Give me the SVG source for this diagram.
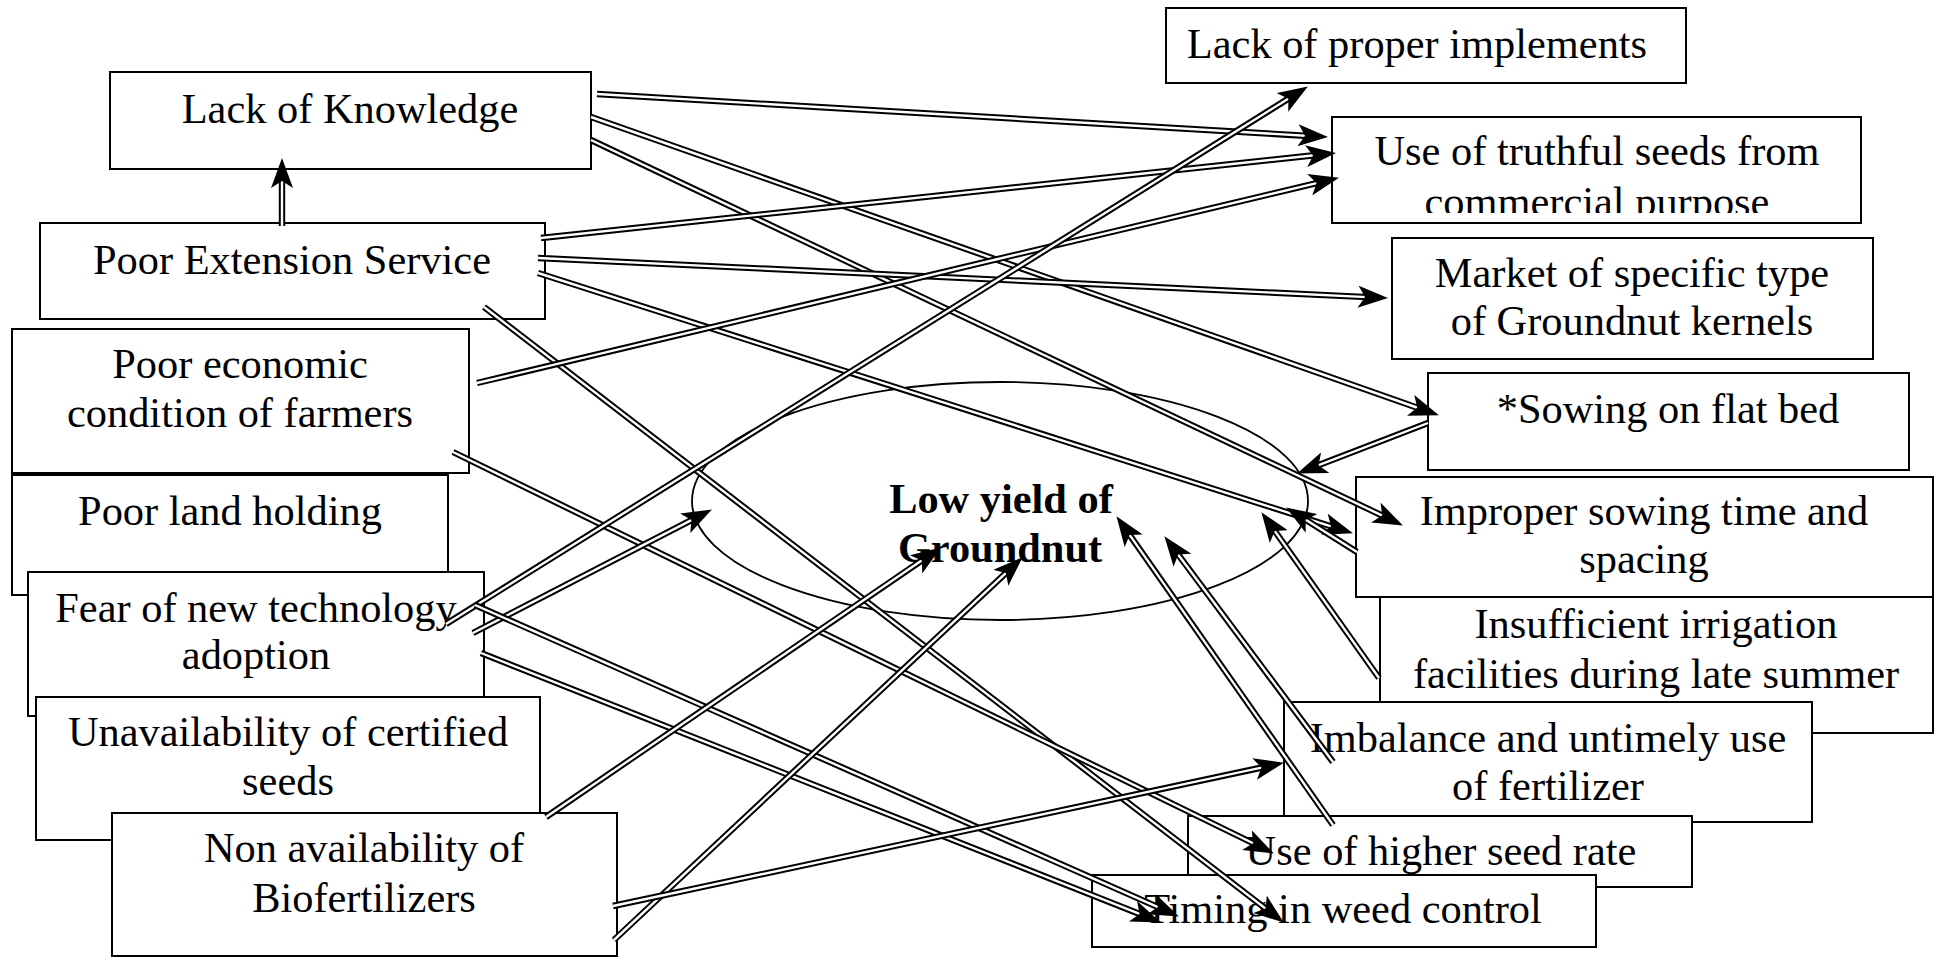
<svg xmlns="http://www.w3.org/2000/svg" width="1938" height="957" viewBox="0 0 1938 957" font-family="'Liberation Serif', 'Times New Roman', serif">
<style>
.box{fill:#fff;stroke:#000;stroke-width:2}
.t{font-size:42.4px;fill:#000;text-anchor:middle}
.tb{font-size:42.4px;font-weight:bold;fill:#000;text-anchor:middle}
.o{fill:none;stroke:#000;stroke-width:6.4}
.i{fill:none;stroke:#fff;stroke-width:2.4;marker-end:url(#ah)}
.ell{fill:#fff;stroke:#000;stroke-width:1.8}
</style>
<defs>
<marker id="ah" markerUnits="userSpaceOnUse" markerWidth="30" markerHeight="22" viewBox="0 0 30 22" refX="20" refY="11" orient="auto">
<path d="M0,0 L30,11 L0,22 L7,11 Z" fill="#000"/>
</marker>
<clipPath id="clipTruth"><rect x="1333" y="118" width="527" height="95"/></clipPath>
</defs>
<rect width="1938" height="957" fill="#fff"/>

<g id="node-lack-knowledge"><rect class="box" x="110" y="72" width="481" height="97"/><text class="t" x="350" y="123">Lack of Knowledge</text></g>
<g id="node-poor-extension"><rect class="box" x="40" y="223" width="505" height="96"/><text class="t" x="292" y="274">Poor Extension Service</text></g>
<g id="node-poor-economic"><rect class="box" x="12" y="329" width="457" height="144"/><text class="t" x="240" y="378">Poor economic</text><text class="t" x="240" y="427">condition of farmers</text></g>
<g id="node-poor-land"><rect class="box" x="12" y="475" width="436" height="120"/><text class="t" x="230" y="525">Poor land holding</text></g>
<g id="node-fear"><rect class="box" x="28" y="572" width="456" height="144"/><text class="t" x="256" y="622">Fear of new technology</text><text class="t" x="256" y="669">adoption</text></g>
<g id="node-unavailability"><rect class="box" x="36" y="697" width="504" height="143"/><text class="t" x="288" y="746">Unavailability of certified</text><text class="t" x="288" y="795">seeds</text></g>
<g id="node-biofertilizers"><rect class="box" x="112" y="813" width="505" height="143"/><text class="t" x="364" y="862">Non availability of</text><text class="t" x="364" y="912">Biofertilizers</text></g>

<g id="node-implements"><rect class="box" x="1166" y="8" width="520" height="75"/><text class="t" x="1417" y="58">Lack of proper implements</text></g>
<g id="node-truthful"><rect class="box" x="1332" y="117" width="529" height="106"/><g clip-path="url(#clipTruth)"><text class="t" x="1597" y="165">Use of truthful seeds from</text><text class="t" x="1597" y="216">commercial purpose</text></g></g>
<g id="node-market"><rect class="box" x="1392" y="238" width="481" height="121"/><text class="t" x="1632" y="287">Market of specific type</text><text class="t" x="1632" y="335">of Groundnut kernels</text></g>
<g id="node-flatbed"><rect class="box" x="1428" y="373" width="481" height="97"/><text class="t" x="1668" y="423">*Sowing on flat bed</text></g>
<g id="node-irrigation"><rect class="box" x="1380" y="597" width="553" height="136"/><text class="t" x="1656" y="638">Insufficient irrigation</text><text class="t" x="1656" y="688">facilities during late summer</text></g>
<g id="node-improper"><rect class="box" x="1356" y="477" width="577" height="120"/><text class="t" x="1644" y="525">Improper sowing time and</text><text class="t" x="1644" y="573">spacing</text></g>
<g id="node-imbalance"><rect class="box" x="1284" y="702" width="528" height="120"/><text class="t" x="1548" y="752">Imbalance and untimely use</text><text class="t" x="1548" y="800">of fertilizer</text></g>
<g id="node-seedrate"><rect class="box" x="1188" y="816" width="504" height="71"/><text class="t" x="1441" y="865">Use of higher seed rate</text></g>
<g id="node-weed"><rect class="box" x="1092" y="875" width="504" height="72"/><text class="t" x="1343" y="923">Timing in weed control</text></g>

<g id="node-low-yield"><ellipse class="ell" cx="1000" cy="501" rx="308" ry="119"/><text class="tb" x="1001" y="513">Low yield of</text><text class="tb" x="1000" y="562">Groundnut</text></g>

<g id="connectors">
<path class="o" d="M282,226 L282,168"/><path class="i" d="M282,226 L282,168"/>
<path class="o" d="M597,94 L1318,136.5"/><path class="i" d="M597,94 L1318,136.5"/>
<path class="o" d="M591,117 L1429.5,412"/><path class="i" d="M591,117 L1429.5,412"/>
<path class="o" d="M591,140 L1393.9,521.1"/><path class="i" d="M591,140 L1393.9,521.1"/>
<path class="o" d="M541,238 L1326,154"/><path class="i" d="M541,238 L1326,154"/>
<path class="o" d="M538,258 L1378,297.6"/><path class="i" d="M538,258 L1378,297.6"/>
<path class="o" d="M538,273 L1343.4,530.3"/><path class="i" d="M538,273 L1343.4,530.3"/>
<path class="o" d="M484,307 L1275.9,916.5"/><path class="i" d="M484,307 L1275.9,916.5"/>
<path class="o" d="M477,383 L1329.2,180.1"/><path class="i" d="M477,383 L1329.2,180.1"/>
<path class="o" d="M453,452 L1264.9,849"/><path class="i" d="M453,452 L1264.9,849"/>
<path class="o" d="M446,624 L1299.4,91.8"/><path class="i" d="M446,624 L1299.4,91.8"/>
<path class="o" d="M473,633 L703,514.1"/><path class="i" d="M473,633 L703,514.1"/>
<path class="o" d="M475,605 L1169.8,912.4"/><path class="i" d="M475,605 L1169.8,912.4"/>
<path class="o" d="M481,653 L1151.6,918.7"/><path class="i" d="M481,653 L1151.6,918.7"/>
<path class="o" d="M546,817 L932.6,553.1"/><path class="i" d="M546,817 L932.6,553.1"/>
<path class="o" d="M614,940 L1015.4,564.1"/><path class="i" d="M614,940 L1015.4,564.1"/>
<path class="o" d="M613,906 L1274.2,764.9"/><path class="i" d="M613,906 L1274.2,764.9"/>
<path class="o" d="M1428,423 L1306.4,469.8"/><path class="i" d="M1428,423 L1306.4,469.8"/>
<path class="o" d="M1357,552 L1294.6,512.8"/><path class="i" d="M1357,552 L1294.6,512.8"/>
<path class="o" d="M1379,678 L1267.2,520.3"/><path class="i" d="M1379,678 L1267.2,520.3"/>
<path class="o" d="M1333,762 L1170.4,544.2"/><path class="i" d="M1333,762 L1170.4,544.2"/>
<path class="o" d="M1333,825 L1122.2,524.4"/><path class="i" d="M1333,825 L1122.2,524.4"/>
</g>
</svg>
